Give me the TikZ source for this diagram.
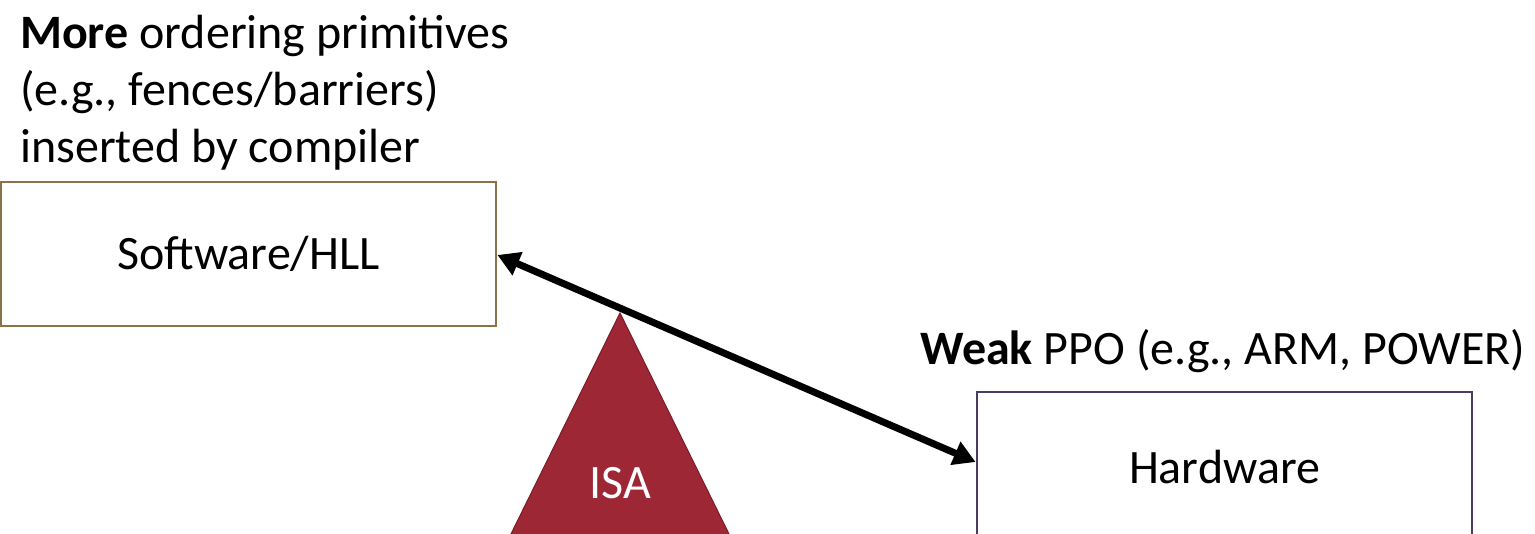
\documentclass[tikz,border=0pt]{standalone}
\usepackage{fontspec}
\setmainfont{Carlito}
\usetikzlibrary{arrows.meta}
\definecolor{swborder}{HTML}{8C7149}
\definecolor{hwborder}{HTML}{4B3D62}
\definecolor{isared}{HTML}{9E2736}
\definecolor{isaedge}{HTML}{7A1C28}
\begin{document}
\begin{tikzpicture}[x=1pt,y=-1pt,
  txt/.style={font=\fontsize{48}{57}\selectfont, inner sep=0pt},
  box/.style={draw, line width=2.8pt, minimum width=495pt, inner sep=0pt, font=\fontsize{48}{57}\selectfont},
  link/.style={line width=7pt, {Triangle[length=22pt,width=24pt]}-{Triangle[length=22pt,width=24pt]}}]
\useasboundingbox (0,0) rectangle (1535,534);
\clip (0,0) rectangle (1535,534);
\node[txt, anchor=base west, align=left] (note) at (20,163) {\textbf{More} ordering primitives\\(e.g., fences/barriers)\\inserted by compiler};
\node[box, draw=swborder, minimum height=144pt] (sw) at (248.5,254) {Software/HLL};
\node[box, draw=hwborder, minimum height=150pt] (hw) at (1224.5,467) {Hardware};
\node[txt, anchor=base west] (weak) at (920,365) {\textbf{Weak} PPO (e.g., ARM, POWER)};
\fill[isared, draw=isaedge, line width=1pt] (620,313) -- (732,540) -- (508,540) -- cycle;
\node[txt, text=white] (isa) at (620,483) {ISA};
\draw[link] ([yshift=-1pt]sw.east) -- ([yshift=5pt]hw.west);
\end{tikzpicture}
\end{document}
